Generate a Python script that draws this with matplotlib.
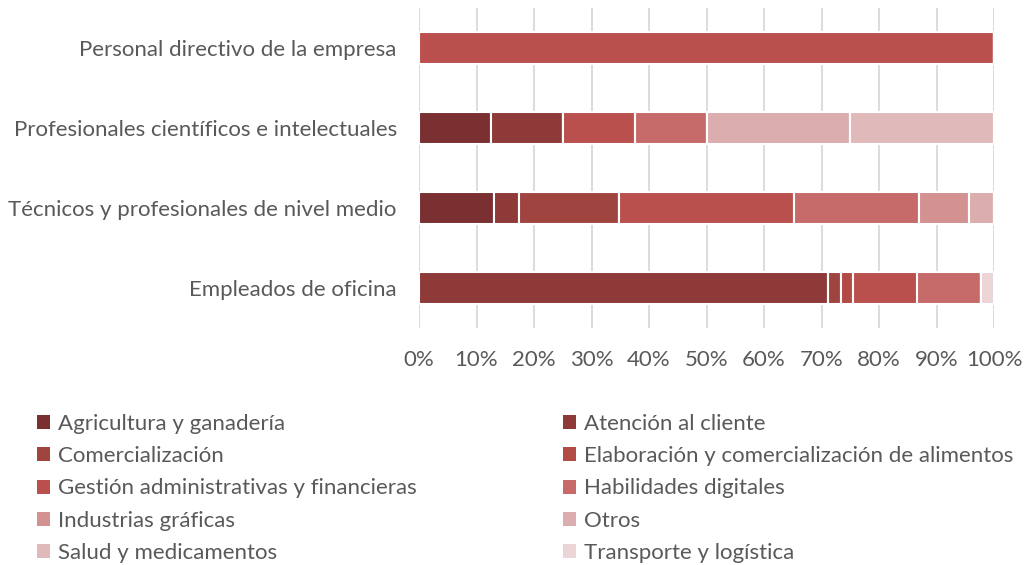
import matplotlib.pyplot as plt
import numpy as np
from matplotlib.patches import Patch
from matplotlib.ticker import PercentFormatter

plt.rcParams['font.family'] = ['Lato', 'DejaVu Sans']

# occupational groups (top to bottom)
groups = ["Personal directivo de la empresa",
          "Profesionales científicos e intelectuales",
          "Técnicos y profesionales de nivel medio",
          "Empleados de oficina"]

areas = ["Agricultura y ganadería", "Atención al cliente", "Comercialización",
         "Elaboración y comercialización de alimentos",
         "Gestión administrativas y financieras", "Habilidades digitales",
         "Industrias gráficas", "Otros", "Salud y medicamentos",
         "Transporte y logística"]

# share of each training area per group (%)
agricultura = [0, 12.5, 13.04, 0]
atencion = [0, 12.5, 4.35, 71.11]
comercializacion = [0, 0, 17.39, 2.22]
elaboracion = [0, 0, 0, 2.22]
gestion = [100, 12.5, 30.43, 11.11]
habilidades = [0, 12.5, 21.74, 11.11]
industrias = [0, 0, 8.70, 0]
otros = [0, 25, 4.35, 0]
salud = [0, 25, 0, 0]
transporte = [0, 0, 0, 2.22]

series = [agricultura, atencion, comercializacion, elaboracion, gestion,
          habilidades, industrias, otros, salud, transporte]

colors = ["#7A3030", "#8E3A38", "#A04440", "#B24A46", "#BA504D",
          "#C66B69", "#D39291", "#DCADAE", "#E0BABB", "#EBD5D6"]

fig = plt.figure(figsize=(10.25, 5.65), dpi=100)
ax = fig.add_axes([419/1025, 1 - 328/565, 575/1025, 320/565])

y = np.arange(len(groups))
left = np.zeros(len(groups))
for vals, col in zip(series, colors):
    vals = np.array(vals)
    ax.barh(y, vals, left=left, height=0.39, color=col,
            edgecolor="white", linewidth=1.5, zorder=3)
    left += vals

ax.set_xlim(0, 100)
ax.set_ylim(len(groups) - 0.5, -0.5)
ax.set_xticks(np.arange(0, 101, 10))
ax.xaxis.set_major_formatter(PercentFormatter(decimals=0))
ax.set_yticks(y)
ax.set_yticklabels(groups)
ax.grid(axis="x", color="#D9D9D9", linewidth=1.3, zorder=0)
for s in ax.spines.values():
    s.set_visible(False)
ax.tick_params(length=0, labelsize=16, colors="#595959")
ax.tick_params(axis="x", pad=16)
ax.tick_params(axis="y", pad=16)

# legend in two columns
handles = [Patch(facecolor=c, edgecolor="none") for c in colors]
leg_kw = dict(frameon=False, fontsize=16, labelcolor="#595959",
              handlelength=0.6, handleheight=0.6, handletextpad=0.35,
              labelspacing=0.55, borderaxespad=0, borderpad=0)
leg1 = fig.legend(handles[0::2], areas[0::2], loc="upper left",
                  bbox_to_anchor=(37/1025, 1 - 414/565), **leg_kw)
leg2 = fig.legend(handles[1::2], areas[1::2], loc="upper left",
                  bbox_to_anchor=(563/1025, 1 - 414/565), **leg_kw)

fig.savefig("out.png", dpi=100)
